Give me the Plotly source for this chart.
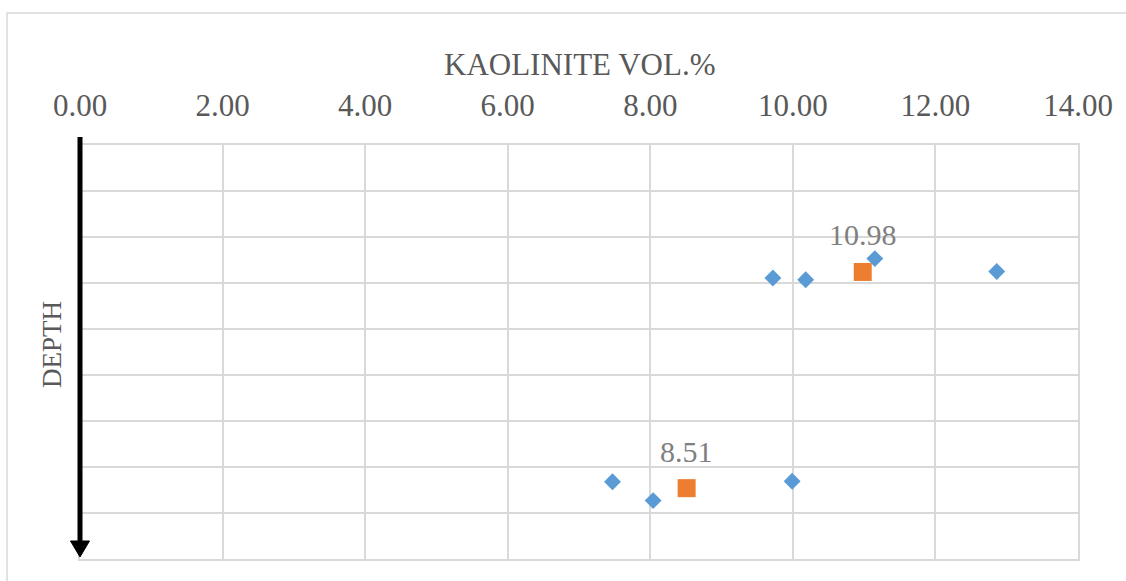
import plotly.graph_objects as go

# Kaolinite volume (%) per sample and its depth position (relative depth units)
sample_kaolinite = [9.72, 10.18, 11.15, 12.86, 7.47, 8.04, 9.99]
sample_depth = [2.89, 2.93, 2.47, 2.75, 7.32, 7.73, 7.31]

# Interval averages
avg_kaolinite = [10.98, 8.51]
avg_depth = [2.76, 7.46]

x_ticks = [0, 2, 4, 6, 8, 10, 12, 14]

SERIF = "Liberation Serif, Times New Roman, serif"
GRID = "#D9D9D9"

fig = go.Figure()

fig.add_trace(go.Scatter(
    x=sample_kaolinite, y=sample_depth, mode="markers",
    marker=dict(symbol="diamond", size=13, color="#5B9BD5"),
    showlegend=False, cliponaxis=False,
))
fig.add_trace(go.Scatter(
    x=avg_kaolinite, y=avg_depth, mode="markers",
    marker=dict(symbol="square", size=18, color="#ED7D31"),
    showlegend=False, cliponaxis=False,
))

annotations = []
for xv, yv in zip(avg_kaolinite, avg_depth):
    annotations.append(dict(
        x=xv, y=yv, xref="x", yref="y", text=f"{xv:.2f}", showarrow=False,
        yshift=37, font=dict(family=SERIF, size=30, color="#7F7F7F"),
    ))

annotations.append(dict(
    x=0.5, y=1.194, xref="paper", yref="paper", text="KAOLINITE VOL.%",
    showarrow=False, xanchor="center", yanchor="middle",
    font=dict(family=SERIF, size=31, color="#595959"),
))
annotations.append(dict(
    x=-0.028, y=0.517, xref="paper", yref="paper", text="DEPTH",
    showarrow=False, textangle=-90, xanchor="center", yanchor="middle",
    font=dict(family=SERIF, size=27, color="#595959"),
))

shapes = [
    # outer chart frame
    dict(type="rect", xref="paper", yref="paper", x0=-0.0731, x1=1.06,
         y0=-0.08, y1=1.3188, line=dict(color=GRID, width=1.5), layer="below"),
    # depth arrow shaft
    dict(type="line", xref="paper", yref="paper", x0=0, x1=0,
         y0=1.0193, y1=0.04, line=dict(color="black", width=5)),
    # depth arrow head
    dict(type="path", xref="paper", yref="paper",
         path="M -0.0095 0.0435 L 0.0095 0.0435 L 0 0.0048 Z",
         fillcolor="black", line=dict(color="black", width=1)),
]

fig.update_layout(
    width=1126, height=581,
    margin=dict(l=80, r=48, t=145, b=22),
    paper_bgcolor="white", plot_bgcolor="white",
    annotations=annotations, shapes=shapes,
    xaxis=dict(
        side="top", range=[0, 14], tickvals=x_ticks, tickformat=".2f",
        showgrid=True, gridcolor=GRID, gridwidth=1.5, zeroline=False,
        showline=True, linecolor=GRID, linewidth=1.5, mirror=True,
        ticks="", ticklabelstandoff=15,
        tickfont=dict(family=SERIF, size=31, color="#595959"),
    ),
    yaxis=dict(
        range=[9, 0], dtick=1, showticklabels=False,
        showgrid=True, gridcolor=GRID, gridwidth=1.5, zeroline=False,
        showline=True, linecolor=GRID, linewidth=1.5, mirror=True, ticks="",
    ),
)

fig.write_html("out.html")
